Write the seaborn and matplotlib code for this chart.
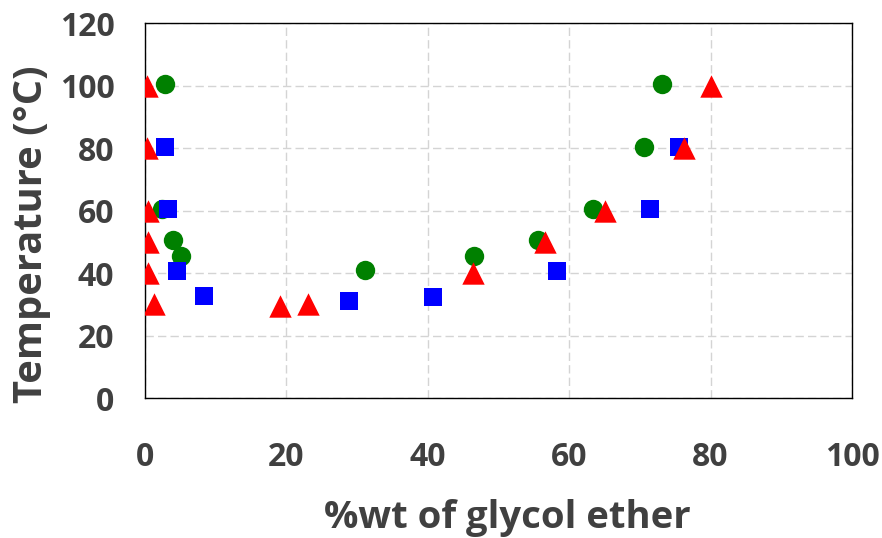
import matplotlib
matplotlib.use("Agg")
import matplotlib.pyplot as plt
import seaborn as sns
import pandas as pd

# series (x = %wt glycol ether, y = temperature)
green_x = [2.8, 2.4, 4.0, 5.1, 31.1, 46.5, 55.6, 63.4, 70.6, 73.1]
green_y = [100.4, 60.5, 50.5, 45.5, 41.0, 45.5, 50.5, 60.5, 80.5, 100.4]

blue_x = [2.8, 3.3, 4.5, 8.3, 28.9, 40.7, 58.3, 71.4, 75.5]
blue_y = [80.5, 60.5, 40.5, 32.5, 31.0, 32.3, 40.5, 60.5, 80.5]

red_x = [0.3, 0.3, 0.4, 0.4, 0.4, 1.3, 19.1, 23.0, 46.4, 56.6, 65.0, 76.2, 80.0]
red_y = [100, 80, 60, 50, 40, 30, 29.5, 30, 40, 50, 60, 80, 100]

sns.set_style("white")
plt.rcParams['font.family'] = ['Open Sans', 'DejaVu Sans']

fig = plt.figure(figsize=(8.82, 5.38), dpi=100)
ax = fig.add_axes([0.1644, 0.2602, 0.8016, 0.6968])

green_df = pd.DataFrame({'x': green_x, 'y': green_y})
blue_df = pd.DataFrame({'x': blue_x, 'y': blue_y})
red_df = pd.DataFrame({'x': red_x, 'y': red_y})

sns.scatterplot(x='x', y='y', data=green_df, ax=ax, color='#008000', marker='o',
                s=195, linewidth=0, zorder=3)
sns.scatterplot(x='x', y='y', data=blue_df, ax=ax, color='#0000FF', marker='s',
                s=185, linewidth=0, zorder=4)
sns.scatterplot(x='x', y='y', data=red_df, ax=ax, color='#FF0000', marker='^',
                s=260, linewidth=0, zorder=5)

ax.set_xlim(0, 100)
ax.set_ylim(0, 120)
ax.set_xticks(range(0, 101, 20))
ax.set_yticks(range(0, 121, 20))
ax.grid(True, color='#d4d4d4', linestyle=(0, (6, 3)), linewidth=1)
ax.set_axisbelow(True)
for side in ['left', 'right', 'top', 'bottom']:
    ax.spines[side].set_visible(True)
    ax.spines[side].set_color('black')
    ax.spines[side].set_linewidth(1)

ax.tick_params(axis='x', length=0, pad=31, labelsize=23, labelcolor='#404040')
ax.tick_params(axis='y', length=0, pad=22, labelsize=23, labelcolor='#404040')
for lbl in ax.get_xticklabels() + ax.get_yticklabels():
    lbl.set_fontweight('bold')

ax.set_xlabel('%wt of glycol ether', fontsize=27.5, fontweight='bold', color='#404040', labelpad=18)
ax.xaxis.label.set_x(0.512)
ax.set_ylabel('Temperature (°C)', fontsize=28.7, fontweight='bold', color='#404040')
ax.yaxis.set_label_coords(-0.133, 0.437)

plt.savefig('out.png', dpi=100)
